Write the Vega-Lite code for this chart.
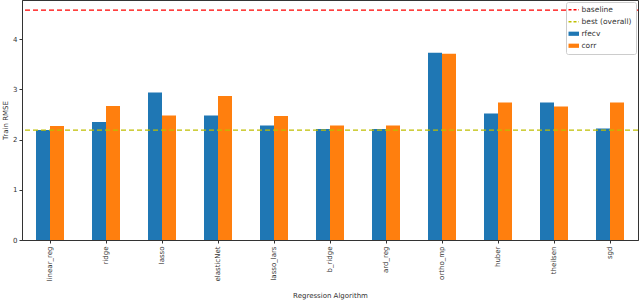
{
  "$schema": "https://vega.github.io/schema/vega-lite/v6.json",
  "autosize": "none",
  "width": 616,
  "height": 240,
  "padding": {"left": 22, "top": 0, "right": 2, "bottom": 61},
  "config": {
    "font": "DejaVu Sans",
    "view": {"stroke": "#333333", "strokeWidth": 1},
    "axis": {"labelFont": "DejaVu Sans", "titleFont": "DejaVu Sans", "labelFontSize": 7, "titleFontSize": 7, "titleFontWeight": "normal", "labelColor": "#333", "titleColor": "#333", "domainColor": "#333", "tickColor": "#333", "grid": false}
  },
  "datasets": {
    "bars": [
      {"algo": "linear_reg", "series": "rfecv", "rmse": 2.19},
      {"algo": "linear_reg", "series": "corr", "rmse": 2.27},
      {"algo": "ridge", "series": "rfecv", "rmse": 2.35},
      {"algo": "ridge", "series": "corr", "rmse": 2.67},
      {"algo": "lasso", "series": "rfecv", "rmse": 2.94},
      {"algo": "lasso", "series": "corr", "rmse": 2.48},
      {"algo": "elasticNet", "series": "rfecv", "rmse": 2.48},
      {"algo": "elasticNet", "series": "corr", "rmse": 2.87},
      {"algo": "lasso_lars", "series": "rfecv", "rmse": 2.28},
      {"algo": "lasso_lars", "series": "corr", "rmse": 2.47},
      {"algo": "b_ridge", "series": "rfecv", "rmse": 2.21},
      {"algo": "b_ridge", "series": "corr", "rmse": 2.28},
      {"algo": "ard_reg", "series": "rfecv", "rmse": 2.21},
      {"algo": "ard_reg", "series": "corr", "rmse": 2.28},
      {"algo": "ortho_mp", "series": "rfecv", "rmse": 3.73},
      {"algo": "ortho_mp", "series": "corr", "rmse": 3.71},
      {"algo": "huber", "series": "rfecv", "rmse": 2.52},
      {"algo": "huber", "series": "corr", "rmse": 2.74},
      {"algo": "theilsen", "series": "rfecv", "rmse": 2.74},
      {"algo": "theilsen", "series": "corr", "rmse": 2.66},
      {"algo": "sgd", "series": "rfecv", "rmse": 2.22},
      {"algo": "sgd", "series": "corr", "rmse": 2.74}
    ],
    "lines": [
      {"series": "baseline", "rmse": 4.58},
      {"series": "best (overall)", "rmse": 2.19}
    ]
  },
  "layer": [
    {
      "data": {"name": "bars"},
      "mark": {"type": "bar"},
      "encoding": {
        "x": {"field": "algo", "type": "nominal", "sort": null, "title": "Regression Algorithm",
              "scale": {"paddingInner": 0.5, "paddingOuter": 0.25},
              "axis": {"labelAngle": -90, "titlePadding": 10, "tickSize": 3, "labelPadding": 3}},
        "xOffset": {"field": "series", "type": "nominal", "sort": ["rfecv", "corr"]},
        "y": {"field": "rmse", "type": "quantitative", "title": "Train RMSE",
              "scale": {"domain": [0, 4.78], "nice": false},
              "axis": {"values": [0, 1, 2, 3, 4], "tickSize": 3, "titlePadding": 4}},
        "color": {"field": "series", "type": "nominal",
                  "scale": {"domain": ["baseline", "best (overall)", "rfecv", "corr"], "range": ["#ff0000", "#bfbf00", "#1f77b4", "#ff7f0e"]},
                  "legend": {"title": null, "orient": "top-right", "offset": 2, "fillColor": "white", "strokeColor": "#cccccc", "cornerRadius": 2, "padding": 4,
                             "labelFont": "DejaVu Sans", "labelFontSize": 7.5, "labelColor": "#333", "symbolSize": 110, "rowPadding": 3,
                             "encode": {"symbols": {"update": {
                               "shape": {"signal": "datum.value === 'baseline' || datum.value === 'best (overall)' ? 'stroke' : 'M-1,-0.4H1V0.4H-1Z'"},
                               "strokeDash": {"signal": "datum.value === 'baseline' || datum.value === 'best (overall)' ? [3, 2] : []"},
                               "strokeWidth": {"signal": "datum.value === 'baseline' || datum.value === 'best (overall)' ? 1.5 : 0"}
                             }}}}}
      }
    },
    {
      "data": {"name": "lines"},
      "mark": {"type": "rule", "strokeDash": [5, 3], "strokeWidth": 1.2},
      "encoding": {
        "y": {"field": "rmse", "type": "quantitative"},
        "color": {"field": "series", "type": "nominal"}
      }
    }
  ]
}
